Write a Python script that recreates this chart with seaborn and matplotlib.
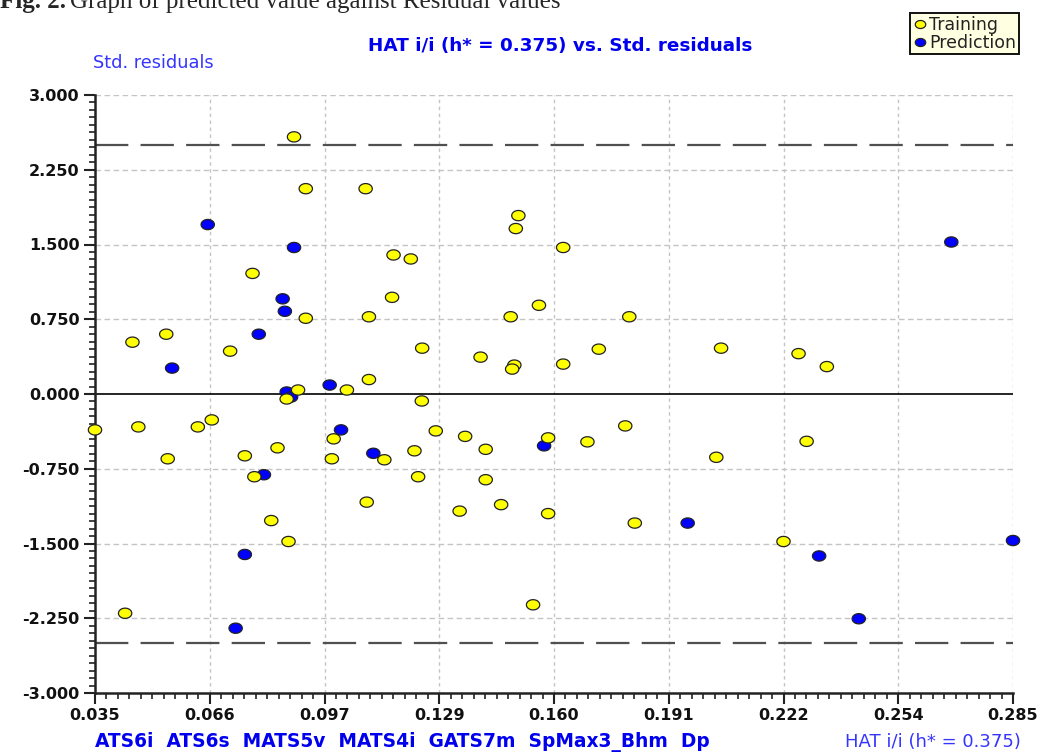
import matplotlib
matplotlib.use("Agg")
import matplotlib.pyplot as plt
from matplotlib.path import Path
import numpy as np
import pandas as pd
import seaborn as sns

# HAT i/i (leverage) and standardised residuals
train_hat = [0.0892, 0.0924, 0.1087, 0.0779, 0.0924, 0.1096, 0.0452, 0.0544,
             0.0718, 0.1096, 0.1503, 0.1496, 0.1625, 0.1163, 0.1210, 0.1159,
             0.1559, 0.1482, 0.1805, 0.1241, 0.1400, 0.1492, 0.1486, 0.1625,
             0.1722, 0.0903, 0.0872, 0.1036, 0.0350, 0.0468, 0.0630, 0.0668,
             0.1000, 0.0548, 0.0758, 0.0847, 0.0995, 0.0784, 0.1090, 0.0830,
             0.0877, 0.0432, 0.1240, 0.1278, 0.1358, 0.1414, 0.1584, 0.1691,
             0.1794, 0.1138, 0.1220, 0.1230, 0.1414, 0.1343, 0.1456, 0.1584,
             0.1820, 0.1543, 0.2055, 0.2266, 0.2343, 0.2288, 0.2042, 0.2225]
train_res = [2.58, 2.06, 2.06, 1.21, 0.76, 0.775, 0.52, 0.60,
             0.43, 0.145, 1.79, 1.66, 1.47, 1.395, 1.355, 0.97,
             0.89, 0.775, 0.775, 0.46, 0.37, 0.29, 0.25, 0.30,
             0.45, 0.04, -0.05, 0.04, -0.36, -0.33, -0.33, -0.26,
             -0.45, -0.65, -0.62, -0.54, -0.65, -0.83, -1.085, -1.27,
             -1.48, -2.20, -0.07, -0.37, -0.425, -0.555, -0.44, -0.48,
             -0.32, -0.66, -0.57, -0.83, -0.86, -1.175, -1.11, -1.20,
             -1.295, -2.115, 0.46, 0.405, 0.275, -0.475, -0.635, -1.48]

pred_hat = [0.0657, 0.0892, 0.0861, 0.0867, 0.0796, 0.0560, 0.0872, 0.0884,
            0.0989, 0.1020, 0.1108, 0.0810, 0.0758, 0.0733, 0.1573, 0.2682,
            0.1964, 0.2322, 0.2430, 0.2850]
pred_res = [1.70, 1.47, 0.955, 0.83, 0.60, 0.26, 0.02, -0.03,
            0.09, -0.36, -0.595, -0.81, -1.61, -2.35, -0.52, 1.525,
            -1.295, -1.625, -2.255, -1.47]

x_ticks = [0.035, 0.06625, 0.0975, 0.12875, 0.160, 0.19125, 0.2225, 0.25375, 0.285]
x_tick_labels = ["0.035", "0.066", "0.097", "0.129", "0.160", "0.191", "0.222", "0.254", "0.285"]
y_ticks = [-3.0, -2.25, -1.5, -0.75, 0.0, 0.75, 1.5, 2.25, 3.0]
y_tick_labels = ["-3.000", "-2.250", "-1.500", "-0.750", "0.000", "0.750", "1.500", "2.250", "3.000"]
h_limit = 2.5

# prediction rows first so the yellow training dots sit on top
df = pd.DataFrame({
    "hat": pred_hat + train_hat,
    "res": pred_res + train_res,
    "set": ["Prediction"] * len(pred_hat) + ["Training"] * len(train_hat),
})

sns.set_style("white")
plt.rcParams["font.family"] = ["DejaVu Sans"]

fig = plt.figure(figsize=(10.43, 7.54), dpi=100)
ax = fig.add_axes([95 / 1043, 1 - 693 / 754, 918 / 1043, 598 / 754])

# slightly flattened circle like the original markers
t = np.linspace(0, 2 * np.pi, 60)
ellipse = Path(np.column_stack([1.3 * np.cos(t), np.sin(t)]), closed=True)

sns.scatterplot(data=df, x="hat", y="res", hue="set",
                hue_order=["Training", "Prediction"],
                palette={"Training": "#ffff00", "Prediction": "#0000ff"},
                marker=ellipse, s=92, edgecolor="#222222", linewidth=0.9,
                clip_on=False, zorder=5, ax=ax)

ax.set_xlim(0.035, 0.285)
ax.set_ylim(-3, 3)
ax.set_xticks(x_ticks)
ax.set_xticklabels(x_tick_labels)
ax.set_yticks(y_ticks)
ax.set_yticklabels(y_tick_labels)
ax.set_xticks(np.linspace(0.035, 0.285, 81), minor=True)
ax.set_yticks(np.linspace(-3, 3, 81), minor=True)

for x in x_ticks[1:]:
    ax.axvline(x, color="#c4c4c4", lw=1, ls=(0, (2.5, 2.5)), zorder=1)
for y in y_ticks[1:]:
    if y != 0:
        ax.axhline(y, color="#c4c4c4", lw=1, ls=(0, (4, 2.5)), zorder=1)
ax.axhline(0, color="black", lw=1.2, zorder=2)
for y in (h_limit, -h_limit):
    ax.axhline(y, color="#505050", lw=1.6, ls=(0, (15, 5.5)), zorder=2)

for side in ("top", "right"):
    ax.spines[side].set_visible(False)
for side in ("left", "bottom"):
    ax.spines[side].set_color("#222222")
    ax.spines[side].set_linewidth(1.8)

ax.tick_params(which="major", direction="out", length=8, width=1.5, color="#222222",
               labelsize=11.5, pad=3, left=True, bottom=True)
ax.tick_params(which="minor", direction="out", length=4, width=1.2, color="#222222",
               left=True, bottom=True)
for lab in ax.get_xticklabels() + ax.get_yticklabels():
    lab.set_fontweight("bold")
    lab.set_color("#111111")

ax.set_xlabel("")
ax.set_ylabel("")

# caption of the source paper, cut off at the top edge as in the original
cap = fig.text(0.0, 1 - 8 / 754, "Fig. 2.", family="Liberation Serif", fontweight="bold",
               fontsize=18, va="baseline", ha="left")
fig.canvas.draw()
cap_end = cap.get_window_extent().x1 / fig.bbox.width
fig.text(cap_end + 4 / 1043, 1 - 8 / 754, "Graph of predicted value against Residual values",
         family="Liberation Serif", fontsize=18, va="baseline", ha="left")

fig.text(560 / 1043, 1 - 46 / 754, "HAT i/i (h* = 0.375) vs. Std. residuals",
         color="#0000ee", fontweight="bold", fontsize=13.2, ha="center", va="center")
fig.text(93 / 1043, 1 - 63 / 754, "Std. residuals", color="#3535ff",
         fontsize=12.8, ha="left", va="center")
fig.text(95 / 1043, 1 - 742 / 754, "ATS6i  ATS6s  MATS5v  MATS4i  GATS7m  SpMax3_Bhm  Dp",
         color="#0000ee", fontweight="bold", fontsize=13.4, ha="left", va="center")
fig.text(1021 / 1043, 1 - 742 / 754, "HAT i/i (h* = 0.375)", color="#3535ff",
         fontsize=13, ha="right", va="center")

sns.move_legend(ax, "upper right", bbox_to_anchor=(1019 / 1043, 1 - 13 / 754),
                bbox_transform=fig.transFigure, title=None, frameon=True,
                fancybox=False, facecolor="#ffffe1", edgecolor="#111111",
                framealpha=1, fontsize=12.5, borderpad=0.15, labelspacing=0.0,
                handletextpad=0.15, handlelength=0.8, borderaxespad=0)
leg = ax.get_legend()
leg.get_frame().set_linewidth(1.4)
for h in leg.legend_handles:
    h.set_markersize(7.5)
for txt in leg.get_texts():
    txt.set_color("#222222")

fig.savefig("out.png", dpi=100)
